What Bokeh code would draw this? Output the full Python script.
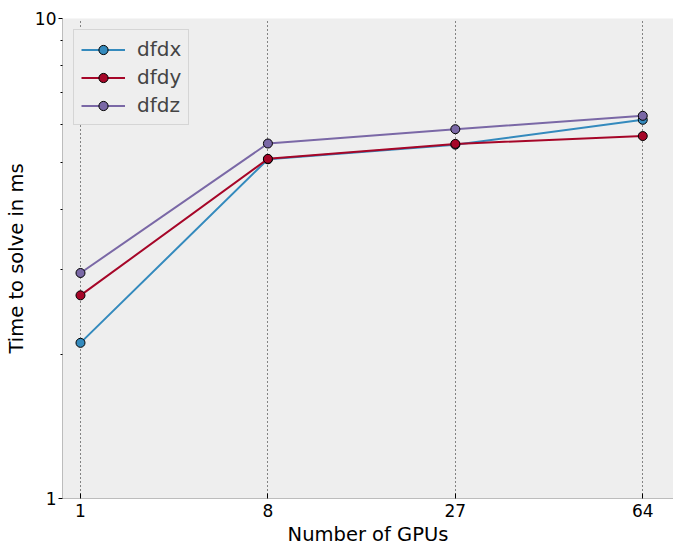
import numpy as np
from bokeh.plotting import figure
from bokeh.models import FixedTicker, Range1d, Legend, LegendItem
from bokeh.embed import file_html
from bokeh.resources import INLINE

# data
gpus = [1, 8, 27, 64]
dfdx = [2.11, 5.09, 5.46, 6.15]
dfdy = [2.65, 5.10, 5.48, 5.69]
dfdz = [2.95, 5.49, 5.88, 6.27]
series_names = ["dfdx", "dfdy", "dfdz"]
series_values = [dfdx, dfdy, dfdz]
series_colors = ["#348ABD", "#A60628", "#7A68A6"]
y_ticks = [1, 10]
y_tick_labels = ["1", "10"]
y_minor = [2, 3, 4, 5, 6, 7, 8, 9]

xpos = [int(round(v)) for v in np.cbrt(gpus)]

p = figure(width=673, height=548, y_axis_type="log",
           x_range=Range1d(0.904, 4.164), y_range=Range1d(1, 10),
           output_backend="svg", toolbar_location=None,
           min_border_left=62, min_border_right=0, min_border_top=18,
           min_border_bottom=50)
p.background_fill_color = "#eeeeee"
p.border_fill_color = "white"
p.outline_line_color = None

FONT = "DejaVu Sans"

# axes
xa = p.xaxis[0]
xa.ticker = FixedTicker(ticks=xpos)
xa.major_label_overrides = {x: str(g) for x, g in zip(xpos, gpus)}
xa.axis_label = "Number of GPUs"
xa.axis_line_color = "#bcbcbc"
xa.major_tick_in = 5
xa.major_tick_out = 0
xa.minor_tick_line_color = None
xa.major_tick_line_color = "black"
xa.major_label_standoff = 5
xa.axis_label_standoff = 3

ya = p.yaxis[0]
ya.ticker = FixedTicker(ticks=y_ticks, minor_ticks=y_minor)
ya.major_label_overrides = {t: s for t, s in zip(y_ticks, y_tick_labels)}
ya.axis_label = "Time to solve in ms"
ya.axis_line_color = "#bcbcbc"
ya.major_tick_in = 0
ya.major_tick_out = 4
ya.minor_tick_in = 0
ya.minor_tick_out = 2
ya.major_tick_line_color = "black"
ya.minor_tick_line_color = "black"
ya.major_label_standoff = 2
ya.axis_label_standoff = 4

for ax in (xa, ya):
    ax.major_label_text_font = FONT
    ax.major_label_text_font_size = "17px"
    ax.major_label_text_color = "black"
    ax.axis_label_text_font = FONT
    ax.axis_label_text_font_size = "19.5px"
    ax.axis_label_text_font_style = "normal"
    ax.axis_label_text_color = "black"

# grid
p.xgrid.ticker = FixedTicker(ticks=xpos)
p.ygrid.ticker = FixedTicker(ticks=y_ticks)
for g in (p.xgrid, p.ygrid):
    g.grid_line_color = "black"
    g.grid_line_dash = "1 3"
    g.grid_line_width = 1
    g.grid_line_alpha = 0.9

items = []
for name, vals, col in zip(series_names, series_values, series_colors):
    l = p.line(xpos, vals, line_color=col, line_width=2)
    c = p.scatter(xpos, vals, size=9, fill_color=col, line_color="black", line_width=1)
    items.append(LegendItem(label=name, renderers=[l, c]))

legend = Legend(items=items, location="top_left")
legend.margin = 11
legend.padding = 7
legend.spacing = 4
legend.glyph_width = 44
legend.glyph_height = 23
legend.label_text_font = FONT
legend.label_text_font_size = "20px"
legend.label_standoff = 12
legend.background_fill_color = "#eeeeee"
legend.background_fill_alpha = 1
legend.border_line_color = "#bcbcbc"
legend.border_line_width = 1
p.add_layout(legend)

open("out.html", "w").write(file_html(p, INLINE))
